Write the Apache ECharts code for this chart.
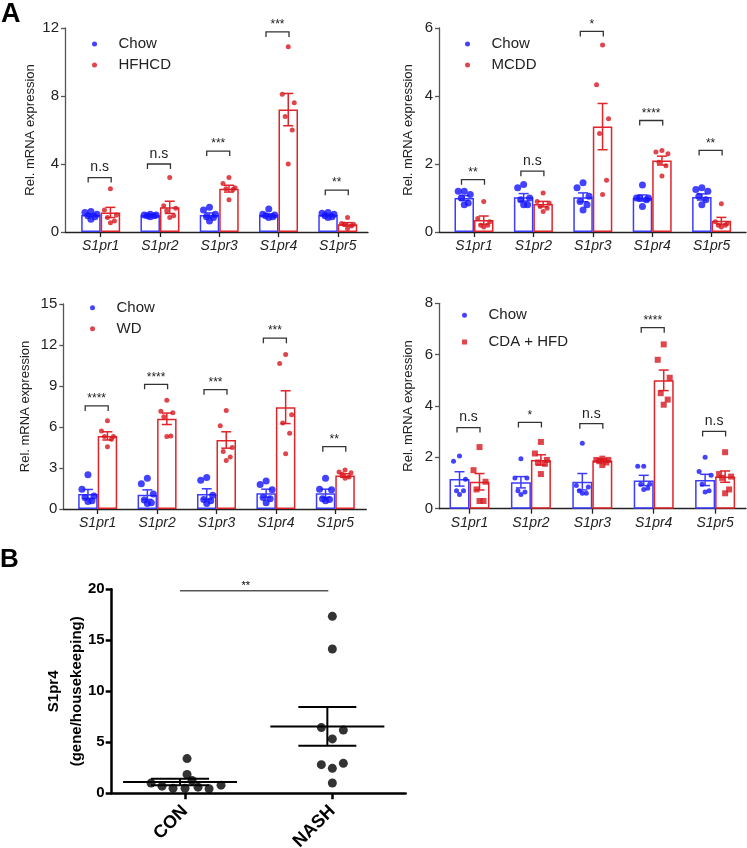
<!DOCTYPE html>
<html>
<head>
<meta charset="utf-8">
<script src="https://cdn.jsdelivr.net/npm/echarts@6/dist/echarts.min.js"></script>
<style>
  html, body { margin: 0; padding: 0; background: #fff; }
  #chart { width: 747px; height: 848px; }
</style>
</head>
<body>
<div id="chart"></div>
<script>
// ---- data -------------------------------------------------------------
var GENES = ['S1pr1', 'S1pr2', 'S1pr3', 'S1pr4', 'S1pr5'];

// HFHCD panel
var HF_CHOW_MEAN = [1.0, 0.98, 1.0, 1.0, 1.0];
var HF_CHOW_SEM = [0.07, 0.03, 0.12, 0.07, 0.05];
var HF_CHOW_PTS = [
  [1.2, 1.15, 1.05, 0.95, 0.9, 0.75],
  [1.05, 1.0, 1.0, 0.95, 0.95, 0.9],
  [1.45, 1.3, 1.05, 0.9, 0.85, 0.65],
  [1.35, 1.05, 1.0, 0.95, 0.9, 0.85],
  [1.15, 1.1, 1.05, 0.95, 0.9, 0.85]
];
var HF_DIET_MEAN = [1.15, 1.45, 2.55, 7.2, 0.45];
var HF_DIET_SEM = [0.3, 0.36, 0.2, 0.95, 0.1];
var HF_DIET_PTS = [
  [2.55, 1.3, 1.0, 0.85, 0.65, 0.55],
  [3.2, 1.55, 1.4, 1.25, 0.95, 0.85],
  [3.2, 2.85, 2.6, 2.55, 2.5, 1.9],
  [10.9, 8.1, 7.6, 6.8, 6.0, 4.0],
  [0.85, 0.5, 0.45, 0.45, 0.35, 0.2]
];
var HF_SIG_Y = [3.2, 4.0, 4.76, 11.77, 2.46];
var HF_SIG = ['n.s', 'n.s', '***', '***', '**'];

// MCDD panel
var MC_CHOW_MEAN = [1.0, 1.02, 1.02, 1.0, 1.03];
var MC_CHOW_SEM = [0.07, 0.11, 0.13, 0.09, 0.09];
var MC_CHOW_PTS = [
  [1.2, 1.2, 1.1, 1.0, 0.85, 0.8],
  [1.4, 1.3, 1.0, 0.95, 0.8, 0.8],
  [1.45, 1.3, 1.05, 0.9, 0.8, 0.65],
  [1.38, 1.0, 1.0, 1.0, 0.95, 0.75],
  [1.3, 1.25, 1.2, 1.05, 0.95, 0.8]
];
var MC_DIET_MEAN = [0.35, 0.82, 3.1, 2.1, 0.33];
var MC_DIET_SEM = [0.12, 0.08, 0.68, 0.13, 0.1];
var MC_DIET_PTS = [
  [0.9, 0.4, 0.3, 0.2, 0.2, 0.15],
  [1.15, 0.9, 0.85, 0.75, 0.7, 0.6],
  [5.5, 4.33, 3.33, 2.9, 1.52, 1.1],
  [2.4, 2.35, 2.3, 2.05, 1.95, 1.65],
  [0.83, 0.3, 0.25, 0.2, 0.2, 0.15]
];
var MC_SIG_Y = [1.54, 1.79, 5.9, 3.28, 2.4];
var MC_SIG = ['**', 'n.s', '*', '****', '**'];

// WD panel
var WD_CHOW_MEAN = [1.1, 1.05, 1.1, 1.15, 1.15];
var WD_CHOW_SEM = [0.33, 0.35, 0.38, 0.3, 0.3];
var WD_CHOW_PTS = [
  [2.5, 1.45, 0.95, 0.85, 0.6, 0.55],
  [2.25, 1.85, 1.1, 0.65, 0.45, 0.4],
  [2.3, 2.1, 1.0, 0.7, 0.6, 0.4],
  [2.05, 1.8, 1.4, 0.85, 0.75, 0.45],
  [2.25, 1.45, 1.4, 0.75, 0.7, 0.6]
];
var WD_DIET_MEAN = [5.35, 6.6, 5.05, 7.45, 2.45];
var WD_DIET_SEM = [0.3, 0.42, 0.6, 1.2, 0.13];
var WD_DIET_PTS = [
  [6.45, 5.7, 5.3, 5.3, 5.1, 4.55],
  [7.95, 7.15, 7.05, 6.75, 5.35, 5.3],
  [7.2, 6.1, 4.5, 4.2, 3.8, 3.55],
  [11.3, 10.65, 6.9, 6.3, 5.55, 4.05],
  [2.85, 2.7, 2.65, 2.55, 2.35, 2.25]
];
var WD_SIG_Y = [7.54, 9.12, 8.73, 12.5, 4.56];
var WD_SIG = ['****', '****', '***', '***', '**'];

// CDA + HFD panel
var CD_CHOW_MEAN = [1.16, 1.03, 1.05, 1.1, 1.12];
var CD_CHOW_SEM = [0.28, 0.22, 0.32, 0.2, 0.22];
var CD_CHOW_PTS = [
  [2.05, 1.85, 1.15, 0.7, 0.7, 0.55],
  [1.95, 1.2, 1.2, 0.7, 0.65, 0.55],
  [2.55, 0.9, 0.85, 0.7, 0.6, 0.6],
  [1.65, 1.65, 0.95, 0.95, 0.8, 0.75],
  [2.0, 1.45, 1.3, 0.95, 0.7, 0.65]
];
var CD_DIET_MEAN = [1.05, 1.9, 1.88, 5.0, 1.25];
var CD_DIET_SEM = [0.32, 0.2, 0.06, 0.4, 0.22];
var CD_DIET_PTS = [
  [2.4, 1.5, 1.05, 0.75, 0.3, 0.3],
  [2.6, 2.15, 1.9, 1.8, 1.75, 1.35],
  [1.95, 1.9, 1.9, 1.85, 1.8, 1.7],
  [6.4, 5.8, 5.1, 4.5, 4.25, 4.05],
  [2.2, 1.35, 1.25, 1.2, 0.75, 0.6]
];
var CD_SIG_Y = [3.16, 3.36, 3.31, 7.05, 3.01];
var CD_SIG = ['n.s', '*', 'n.s', '****', 'n.s'];

// panel B
var B_GROUPS = ['CON', 'NASH'];
var B_CON = [1.0, 0.7, 3.4, 1.85, 1.25, 0.5, 0.6, 0.45, 0.8, 0.5];
var B_NASH = [17.35, 14.15, 6.44, 6.2, 5.33, 2.81, 2.45, 2.94, 1.01];
var B_MEAN = [1.1, 6.55];
var B_SEM = [0.32, 1.9];
var B_SIG_Y = 19.85;

// ---- layout / style ---------------------------------------------------
var FONT = 'Liberation Sans';
var BLUE = '#1414ff', RED = '#d8161e';
var BLUE_BAR = '#3c3cff', RED_BAR = '#e0242a';
var SQUARE = 'path://M0 0H10V10H0Z';
var JITTER = [0, -6, 6, -3, 4, 0];           // horizontal spread of dots, px
var B_CON_X = [-34, -23, 2, 2, 7, 0, 13, 24, 36, -12];
var B_NASH_X = [0, 0, -11, 11, 0, -11, 0, 11, 0];

var grids = [], xAxes = [], yAxes = [], series = [], legends = [];

function dots(groups, dx) {
  var out = [];
  groups.forEach(function (vals, i) {
    vals.forEach(function (v, j) {
      out.push({ value: [i, v], symbolOffset: [dx + JITTER[j % JITTER.length], 0] });
    });
  });
  return out;
}

function errorBars(k, means, sems, dx, color, cap) {
  return {
    type: 'custom', xAxisIndex: k, yAxisIndex: k, z: 4, silent: true,
    data: means.map(function (m, i) { return [i, m, sems[i]]; }),
    encode: { x: 0, y: 1 },
    renderItem: function (params, api) {
      var i = api.value(0), m = api.value(1), s = api.value(2);
      var hi = api.coord([i, m + s]), lo = api.coord([i, m - s]);
      var x = hi[0] + dx;
      var st = { stroke: color, lineWidth: 1.5 };
      return { type: 'group', children: [
        { type: 'line', shape: { x1: x, y1: hi[1], x2: x, y2: lo[1] }, style: st },
        { type: 'line', shape: { x1: x - cap / 2, y1: hi[1], x2: x + cap / 2, y2: hi[1] }, style: st },
        { type: 'line', shape: { x1: x - cap / 2, y1: lo[1], x2: x + cap / 2, y2: lo[1] }, style: st }
      ] };
    }
  };
}

function brackets(k, ys, labels) {
  return {
    type: 'custom', xAxisIndex: k, yAxisIndex: k, z: 6, silent: true,
    data: ys.map(function (y, i) { return [i, y]; }),
    encode: { x: 0, y: 1 },
    renderItem: function (params, api) {
      var p = api.coord([api.value(0), api.value(1)]);
      var x = p[0] - 1, y = p[1], w = 11.5;
      var lab = labels[params.dataIndex];
      var star = lab.indexOf('*') >= 0;
      return { type: 'group', children: [
        { type: 'polyline', shape: { points: [[x - w, y + 5], [x - w, y], [x + w, y], [x + w, y + 5]] },
          style: { stroke: '#333', lineWidth: 1.3, fill: 'none' } },
        { type: 'text', x: x, y: star ? y - 1 : y - 3,
          style: { text: lab, fill: '#222', align: 'center', verticalAlign: 'bottom',
                   font: (star ? '12px ' : '14px ') + FONT } }
      ] };
    }
  };
}

function addPanel(p) {
  var k = grids.length;
  var ticks = [0, 1, 2, 3, 4];
  grids.push({ left: p.left, top: p.top, width: p.width, height: p.height, outerBoundsMode: 'none' });
  xAxes.push({
    gridIndex: k, type: 'value', min: p.xMin, max: p.xMax, splitLine: { show: false },
    axisLine: { show: true, onZero: false, lineStyle: { color: '#222', width: 1.3 } },
    axisTick: { show: true, customValues: ticks, length: 5, lineStyle: { color: '#222', width: 1.3 } },
    axisLabel: { customValues: ticks, formatter: function (v) { return GENES[Math.round(v)]; },
                 fontStyle: 'italic', fontSize: 14, color: '#222', fontFamily: FONT, margin: 7 }
  });
  yAxes.push({
    gridIndex: k, type: 'value', min: 0, max: p.yMax, interval: p.yStep, splitLine: { show: false },
    name: 'Rel. mRNA expression', nameLocation: 'middle', nameGap: p.nameGap,
    nameTextStyle: { fontSize: 13, color: '#222', fontFamily: FONT },
    axisLine: { show: true, onZero: false, lineStyle: { color: '#555', width: 1.3 } },
    axisTick: { show: true, length: 4, lineStyle: { color: '#555', width: 1.3 } },
    axisLabel: { fontSize: 15, color: '#222', fontFamily: FONT, margin: 6 }
  });
  var half = p.barW / 2;
  // dots first so the legend picks up their look
  series.push({ type: 'scatter', name: 'Chow', xAxisIndex: k, yAxisIndex: k, z: 5, silent: true,
    symbol: 'circle', symbolSize: p.chowSize, itemStyle: { color: BLUE }, data: dots(p.chowPts, -half) });
  series.push({ type: 'scatter', name: p.diet, xAxisIndex: k, yAxisIndex: k, z: 5, silent: true,
    symbol: p.dietSymbol, symbolSize: p.dietSize, itemStyle: { color: RED }, data: dots(p.dietPts, half) });
  series.push({ type: 'bar', name: 'Chow', xAxisIndex: k, yAxisIndex: k, z: 2, silent: true,
    barWidth: p.barW, barGap: '0%',
    itemStyle: { color: 'rgba(255,255,255,0)', borderColor: BLUE_BAR, borderWidth: 1.5 },
    data: p.chowMean.map(function (m, i) { return [i, m]; }) });
  series.push({ type: 'bar', name: p.diet, xAxisIndex: k, yAxisIndex: k, z: 2, silent: true,
    barWidth: p.barW, barGap: '0%',
    itemStyle: { color: 'rgba(255,255,255,0)', borderColor: RED_BAR, borderWidth: 1.5 },
    data: p.dietMean.map(function (m, i) { return [i, m]; }) });
  series.push(errorBars(k, p.chowMean, p.chowSem, -half, BLUE_BAR, 10));
  series.push(errorBars(k, p.dietMean, p.dietSem, half, RED_BAR, 10));
  series.push(brackets(k, p.sigY, p.sig));
  legends.push({
    orient: 'vertical', left: p.legLeft, top: p.legTop, itemGap: p.legGap,
    itemWidth: 38, itemHeight: 5, symbolKeepAspect: true, selectedMode: false,
    textStyle: { fontSize: 15, color: '#222', fontFamily: FONT, lineHeight: 16 },
    data: [
      { name: 'Chow', icon: 'circle', itemStyle: { color: BLUE } },
      { name: p.diet, icon: p.dietSymbol === 'rect' ? SQUARE : 'circle', itemStyle: { color: RED } }
    ]
  });
}

addPanel({ left: 65, top: 28, width: 303, height: 204, xMin: -0.602, xMax: 4.51,
  yMax: 12, yStep: 4, nameGap: 28, barW: 19.5, chowSize: 7, dietSize: 5, dietSymbol: 'circle',
  diet: 'HFHCD', chowMean: HF_CHOW_MEAN, chowSem: HF_CHOW_SEM, chowPts: HF_CHOW_PTS,
  dietMean: HF_DIET_MEAN, dietSem: HF_DIET_SEM, dietPts: HF_DIET_PTS, sigY: HF_SIG_Y, sig: HF_SIG,
  legLeft: 87, legTop: 31, legGap: 5 });

addPanel({ left: 439, top: 28, width: 307, height: 204, xMin: -0.589, xMax: 4.579,
  yMax: 6, yStep: 2, nameGap: 24, barW: 19.5, chowSize: 7, dietSize: 5, dietSymbol: 'circle',
  diet: 'MCDD', chowMean: MC_CHOW_MEAN, chowSem: MC_CHOW_SEM, chowPts: MC_CHOW_PTS,
  dietMean: MC_DIET_MEAN, dietSem: MC_DIET_SEM, dietPts: MC_DIET_PTS, sigY: MC_SIG_Y, sig: MC_SIG,
  legLeft: 460, legTop: 31, legGap: 5 });

addPanel({ left: 63.3, top: 304, width: 303, height: 205, xMin: -0.579, xMax: 4.522,
  yMax: 15, yStep: 3, nameGap: 31, barW: 19.5, chowSize: 7, dietSize: 5, dietSymbol: 'circle',
  diet: 'WD', chowMean: WD_CHOW_MEAN, chowSem: WD_CHOW_SEM, chowPts: WD_CHOW_PTS,
  dietMean: WD_DIET_MEAN, dietSem: WD_DIET_SEM, dietPts: WD_DIET_PTS, sigY: WD_SIG_Y, sig: WD_SIG,
  legLeft: 85, legTop: 294.7, legGap: 5 });

addPanel({ left: 439, top: 303.3, width: 307, height: 205.4, xMin: -0.497, xMax: 4.503,
  yMax: 8, yStep: 2, nameGap: 24, barW: 20, chowSize: 5, dietSize: 6, dietSymbol: 'rect',
  diet: 'CDA + HFD', chowMean: CD_CHOW_MEAN, chowSem: CD_CHOW_SEM, chowPts: CD_CHOW_PTS,
  dietMean: CD_DIET_MEAN, dietSem: CD_DIET_SEM, dietPts: CD_DIET_PTS, sigY: CD_SIG_Y, sig: CD_SIG,
  legLeft: 457, legTop: 302.3, legGap: 10.7 });

// ---- panel B ----------------------------------------------------------
var kb = grids.length;
grids.push({ left: 111.7, top: 589.3, width: 294, height: 204, outerBoundsMode: 'none' });
xAxes.push({
  gridIndex: kb, type: 'value', min: -0.498, max: 1.498, splitLine: { show: false },
  axisLine: { show: true, onZero: false, lineStyle: { color: '#000', width: 2.5 } },
  axisTick: { show: true, customValues: [0, 1], length: 6, lineStyle: { color: '#000', width: 2.5 } },
  axisLabel: { customValues: [0, 1], formatter: function (v) { return B_GROUPS[Math.round(v)]; },
               rotate: 45, fontWeight: 'bold', fontSize: 18, color: '#000', fontFamily: FONT, margin: 15 }
});
yAxes.push({
  gridIndex: kb, type: 'value', min: 0, max: 20, interval: 5, splitLine: { show: false },
  name: 'S1pr4\n(gene/housekeeping)', nameLocation: 'middle', nameGap: 23, nameMoveOverlap: false,
  nameTextStyle: { fontSize: 15, fontWeight: 'bold', color: '#000', fontFamily: FONT, lineHeight: 23 },
  axisLine: { show: true, onZero: false, lineStyle: { color: '#000', width: 2.5 } },
  axisTick: { show: true, length: 6, lineStyle: { color: '#000', width: 2.5 } },
  axisLabel: { fontSize: 15, fontWeight: 'bold', color: '#000', fontFamily: FONT, margin: 7 }
});
series.push({
  type: 'scatter', xAxisIndex: kb, yAxisIndex: kb, z: 5, silent: true,
  symbol: 'circle', symbolSize: 9, itemStyle: { color: '#000' },
  data: B_CON.map(function (v, j) { return { value: [0, v], symbolOffset: [B_CON_X[j], 0] }; })
    .concat(B_NASH.map(function (v, j) { return { value: [1, v], symbolOffset: [B_NASH_X[j], 0] }; }))
});
series.push({
  type: 'custom', xAxisIndex: kb, yAxisIndex: kb, z: 4, silent: true,
  data: B_MEAN.map(function (m, i) { return [i, m, B_SEM[i]]; }),
  encode: { x: 0, y: 1 },
  renderItem: function (params, api) {
    var i = api.value(0), m = api.value(1), s = api.value(2);
    var mid = api.coord([i, m]), hi = api.coord([i, m + s]), lo = api.coord([i, m - s]);
    var x = mid[0] - 5;
    var st = { stroke: '#000', lineWidth: 2 };
    return { type: 'group', children: [
      { type: 'line', shape: { x1: x - 57, y1: mid[1], x2: x + 57, y2: mid[1] }, style: st },
      { type: 'line', shape: { x1: x, y1: hi[1], x2: x, y2: lo[1] }, style: st },
      { type: 'line', shape: { x1: x - 29, y1: hi[1], x2: x + 29, y2: hi[1] }, style: st },
      { type: 'line', shape: { x1: x - 29, y1: lo[1], x2: x + 29, y2: lo[1] }, style: st }
    ] };
  }
});
series.push({
  type: 'custom', xAxisIndex: kb, yAxisIndex: kb, z: 6, silent: true,
  data: [[0, B_SIG_Y]], encode: { x: 0, y: 1 },
  renderItem: function (params, api) {
    var a = api.coord([0, api.value(1)]), b = api.coord([1, api.value(1)]);
    return { type: 'group', children: [
      { type: 'line', shape: { x1: a[0] - 5, y1: a[1], x2: b[0] - 4, y2: a[1] },
        style: { stroke: '#000', lineWidth: 1 } },
      { type: 'text', x: (a[0] + b[0]) / 2 - 13, y: a[1] + 1,
        style: { text: '**', fill: '#000', align: 'center', verticalAlign: 'bottom', font: '11px ' + FONT } }
    ] };
  }
});

var chart = echarts.init(document.getElementById('chart'), null, { renderer: 'canvas' });
chart.setOption({
  animation: false,
  backgroundColor: '#fff',
  grid: grids,
  xAxis: xAxes,
  yAxis: yAxes,
  legend: legends,
  series: series,
  graphic: [
    { type: 'text', left: 1, top: 1, style: { text: 'A', font: 'bold 27px ' + FONT, fill: '#000' } },
    { type: 'text', left: 0, top: 547, style: { text: 'B', font: 'bold 26px ' + FONT, fill: '#000' } }
  ]
});
</script>
</body>
</html>
